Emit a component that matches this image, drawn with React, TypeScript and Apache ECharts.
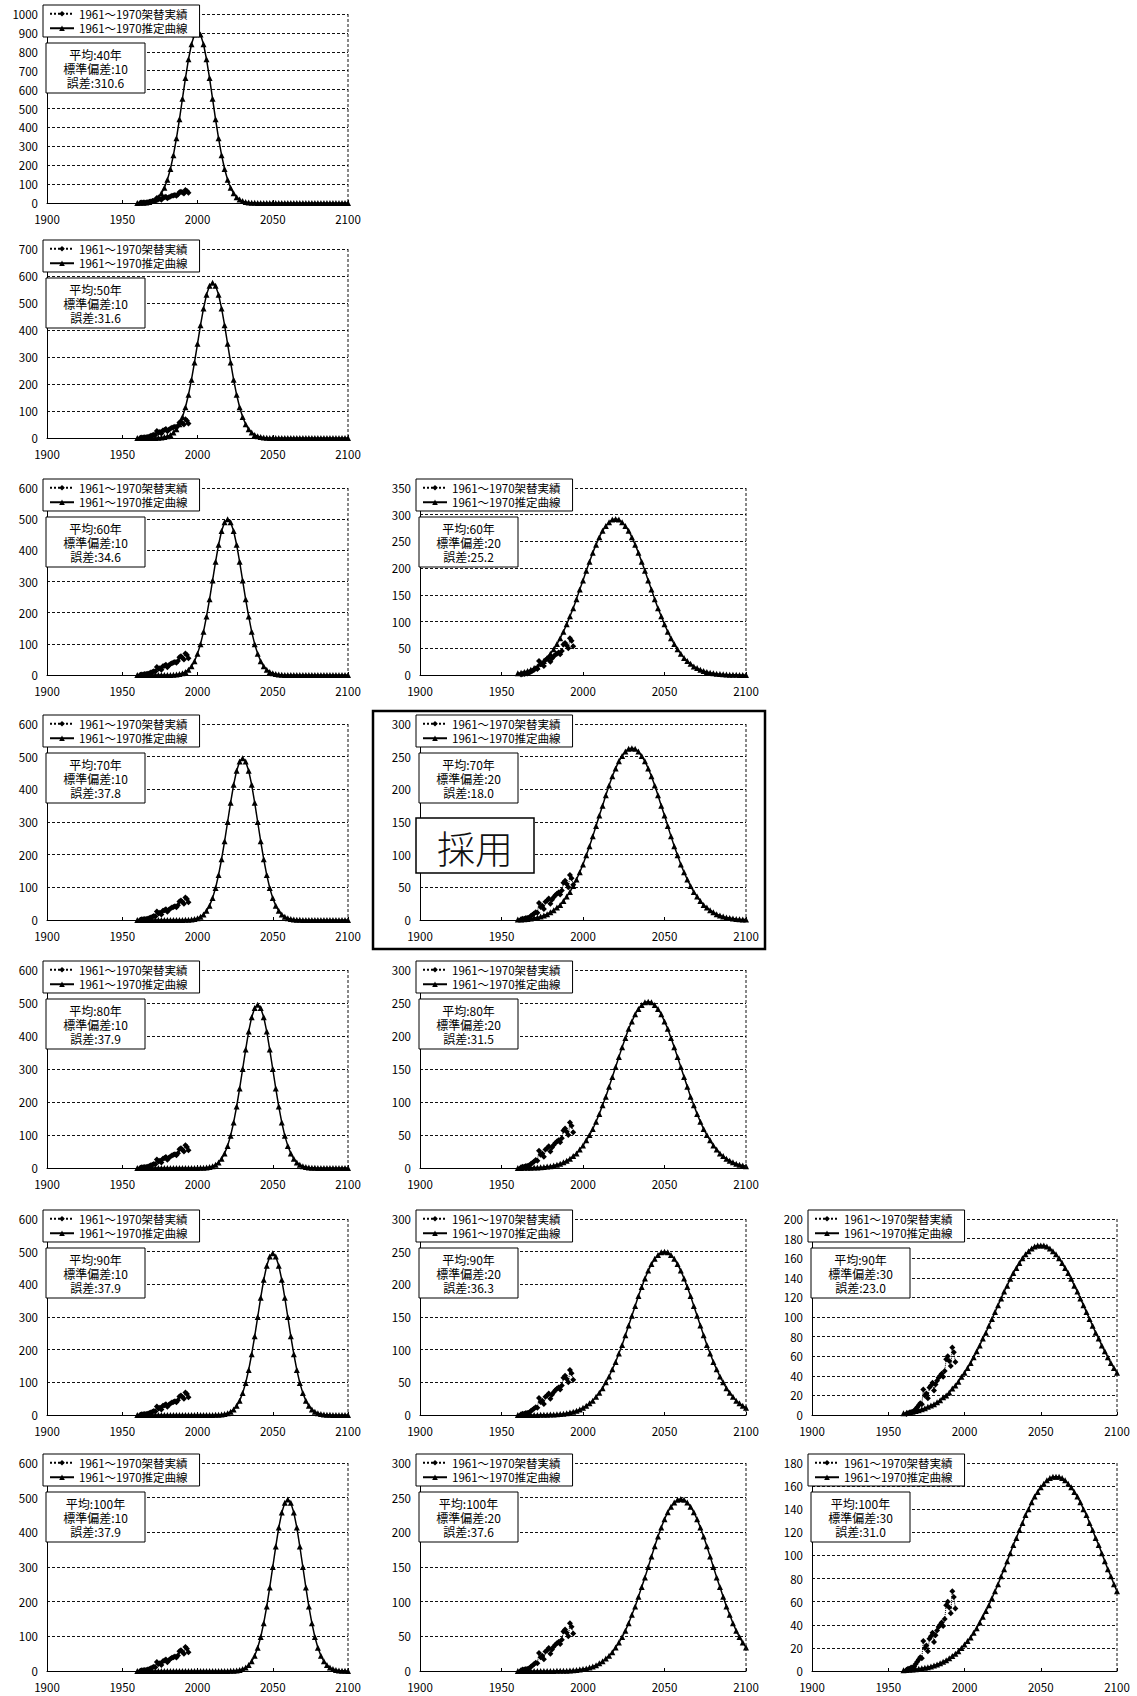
import React, { useEffect, useRef } from "react";
import * as echarts from "echarts";

// ---------------- DATA ----------------
const xTicks = [1900, 1950, 2000, 2050, 2100];

const curveYears = [
  1960, 1962, 1964, 1966, 1968, 1970, 1972, 1974, 1976, 1978,
  1980, 1982, 1984, 1986, 1988, 1990, 1992, 1994, 1996, 1998,
  2000, 2002, 2004, 2006, 2008, 2010, 2012, 2014, 2016, 2018,
  2020, 2022, 2024, 2026, 2028, 2030, 2032, 2034, 2036, 2038,
  2040, 2042, 2044, 2046, 2048, 2050, 2052, 2054, 2056, 2058,
  2060, 2062, 2064, 2066, 2068, 2070, 2072, 2074, 2076, 2078,
  2080, 2082, 2084, 2086, 2088, 2090, 2092, 2094, 2096, 2098,
  2100,
];

// 1961~1970 架替実績 (same observed data in every panel)
const actualYears = [
  1962, 1963, 1964, 1965, 1966, 1967, 1968, 1969, 1970, 1971, 1972,
  1973, 1974, 1975, 1976, 1977, 1978, 1979, 1980, 1981, 1982, 1983,
  1984, 1985, 1986, 1987, 1988, 1989, 1990, 1991, 1992, 1993, 1994,
];
const actualValues = [
  1, 2, 2, 3, 3, 4, 6, 8, 10, 12, 11,
  26, 20, 22, 17, 28, 30, 33, 25, 31, 35, 38,
  40, 42, 39, 45, 57, 60, 55, 50, 69, 64, 54,
];

// 推定曲線 values (every 2 years, 1960-2100)
const curveM40S10 = [
  0.3, 0.7, 1.4, 2.8, 5.4, 10, 18, 31, 51, 81, 123, 180, 253, 342, 443, 552, 661, 760, 840, 892, 910,
  892, 840, 760, 661, 552, 443, 342, 253, 180, 123, 81, 51, 31, 18, 10, 5.4, 2.8, 1.4, 0.7, 0.3,
  0, 0, 0, 0, 0, 0, 0, 0, 0, 0, 0, 0, 0, 0, 0, 0, 0, 0, 0, 0, 0, 0, 0, 0, 0, 0, 0, 0, 0, 0,
];
const curveM50S10 = [
  0, 0, 0, 0, 0.1,
  0.2, 0.4, 0.9, 1.8, 3.4, 6.4, 11, 20, 32, 51, 78, 114, 160, 216, 280, 349, 418, 480, 531, 564, 575,
  564, 531, 480, 418, 349, 280, 216, 160, 114, 78, 51, 32, 20, 11, 6.4, 3.4, 1.8, 0.9, 0.4, 0.2,
  0, 0, 0, 0, 0, 0, 0, 0, 0, 0, 0, 0, 0, 0, 0, 0, 0, 0, 0, 0, 0, 0, 0, 0, 0,
];
const curveM60S10 = [
  0, 0, 0, 0, 0, 0, 0, 0, 0, 0.1,
  0.2, 0.4, 0.8, 1.5, 3.0, 5.6, 9.9, 17, 28, 44, 68, 99, 139, 188, 243, 303, 363, 418, 462, 490, 500,
  490, 462, 418, 363, 303, 243, 188, 139, 99, 68, 44, 28, 17, 9.9, 5.6, 3.0, 1.5, 0.8, 0.4, 0.2,
  0, 0, 0, 0, 0, 0, 0, 0, 0, 0, 0, 0, 0, 0, 0, 0, 0, 0, 0, 0,
];
const curveM70S10 = [
  0, 0, 0, 0, 0, 0, 0, 0, 0, 0, 0, 0, 0, 0, 0.1,
  0.2, 0.4, 0.8, 1.5, 3.0, 5.5, 9.8, 17, 28, 44, 67, 98, 138, 186, 241, 300, 359, 414, 457, 485, 495,
  485, 457, 414, 359, 300, 241, 186, 138, 98, 67, 44, 28, 17, 9.8, 5.5, 3.0, 1.5, 0.8, 0.4, 0.2,
  0, 0, 0, 0, 0, 0, 0, 0, 0, 0, 0, 0, 0, 0, 0,
];
const curveM80S10 = [
  0, 0, 0, 0, 0, 0, 0, 0, 0, 0, 0, 0, 0, 0, 0, 0, 0, 0, 0, 0.1,
  0.2, 0.4, 0.8, 1.5, 3.0, 5.5, 9.8, 17, 28, 44, 67, 98, 138, 186, 241, 300, 359, 414, 457, 485, 495,
  485, 457, 414, 359, 300, 241, 186, 138, 98, 67, 44, 28, 17, 9.8, 5.5, 3.0, 1.5, 0.8, 0.4, 0.2,
  0, 0, 0, 0, 0, 0, 0, 0, 0, 0,
];
const curveM90S10 = [
  0, 0, 0, 0, 0, 0, 0, 0, 0, 0, 0, 0, 0, 0, 0, 0, 0, 0, 0, 0, 0, 0, 0, 0, 0.1,
  0.2, 0.4, 0.8, 1.5, 3.0, 5.5, 9.8, 17, 28, 44, 67, 98, 138, 186, 241, 300, 359, 414, 457, 485, 495,
  485, 457, 414, 359, 300, 241, 186, 138, 98, 67, 44, 28, 17, 9.8, 5.5, 3.0, 1.5, 0.8, 0.4, 0.2,
  0, 0, 0, 0, 0,
];
const curveM100S10 = [
  0, 0, 0, 0, 0, 0, 0, 0, 0, 0, 0, 0, 0, 0, 0, 0, 0, 0, 0, 0, 0, 0, 0, 0, 0, 0, 0, 0, 0, 0.1,
  0.2, 0.4, 0.8, 1.5, 3.0, 5.5, 9.8, 17, 28, 44, 67, 98, 138, 186, 241, 300, 359, 414, 457, 485, 495,
  485, 457, 414, 359, 300, 241, 186, 138, 98, 67, 44, 28, 17, 9.8, 5.5, 3.0, 1.5, 0.8, 0.4, 0.2,
];
const curveM60S20 = [
  3.2, 4.4, 5.8, 7.6, 9.9, 13, 16, 21, 26, 32, 40, 48, 58, 69, 81, 95, 110, 125, 142, 160,
  177, 195, 212, 229, 244, 258, 270, 279, 286, 291, 292,
  291, 286, 279, 270, 258, 244, 229, 212, 195, 177, 160, 142, 125, 110, 95, 81, 69, 58, 48, 40,
  32, 26, 21, 16, 13, 9.9, 7.6, 5.8, 4.4, 3.2, 2.4, 1.8, 1.3, 0.9, 0.6, 0.4, 0.3, 0.2, 0.1, 0.1,
];
const curveM70S20 = [
  0.6, 0.8, 1.1, 1.6, 2.2, 2.9, 3.9, 5.2, 6.9, 8.9, 12, 15, 19, 23, 29, 36, 43, 52, 62, 73,
  85, 99, 113, 128, 144, 160, 175, 191, 206, 220, 232, 243, 251, 258, 262, 263,
  262, 258, 251, 243, 232, 220, 206, 191, 175, 160, 144, 128, 113, 99, 85, 73, 62, 52, 43, 36,
  29, 23, 19, 15, 12, 8.9, 6.9, 5.2, 3.9, 2.9, 2.2, 1.6, 1.1, 0.8, 0.6,
];
const curveM80S20 = [
  0.1, 0.1, 0.2, 0.3, 0.4, 0.6, 0.8, 1.1, 1.5, 2.1, 2.8, 3.8, 5.0, 6.6, 8.6, 11, 14, 18, 22, 28,
  34, 42, 50, 59, 70, 82, 95, 108, 123, 138, 153, 168, 183, 197, 211, 222, 233, 241, 247, 251, 252,
  251, 247, 241, 233, 222, 211, 197, 183, 168, 153, 138, 123, 108, 95, 82, 70, 59, 50, 42, 34,
  28, 22, 18, 14, 11, 8.6, 6.6, 5.0, 3.8, 2.8,
];
const curveM90S20 = [
  0, 0, 0, 0, 0.1, 0.1, 0.1, 0.2, 0.3, 0.4, 0.6, 0.8, 1.1, 1.5, 2.1, 2.8, 3.7, 5.0, 6.5, 8.5,
  11, 14, 18, 22, 28, 34, 41, 50, 59, 70, 81, 94, 107, 122, 137, 152, 167, 182, 196, 209,
  221, 231, 239, 245, 249, 250,
  249, 245, 239, 231, 221, 209, 196, 182, 167, 152, 137, 122, 107, 94, 81, 70, 59, 50, 41, 34,
  28, 22, 18, 14, 11,
];
const curveM100S20 = [
  0, 0, 0, 0, 0, 0, 0, 0, 0, 0.1, 0.1, 0.1, 0.2, 0.3, 0.4, 0.5, 0.8, 1.1, 1.5, 2.0,
  2.8, 3.7, 4.9, 6.5, 8.4, 11, 14, 18, 22, 27, 34, 41, 49, 58, 69, 81, 93, 107, 121, 135,
  150, 165, 180, 194, 207, 219, 229, 237, 243, 247, 248,
  247, 243, 237, 229, 219, 207, 194, 180, 165, 150, 135, 121, 107, 93, 81, 69, 58, 49, 41, 34,
];
const curveM90S30 = [
  1.9, 2.3, 2.8, 3.4, 4.1, 4.9, 5.9, 7.0, 8.3, 9.7, 11, 13, 15, 18, 20, 23, 27, 30, 34, 39,
  43, 48, 53, 59, 65, 71, 78, 84, 91, 98, 105, 112, 119, 126, 132, 139, 145, 150, 155, 160,
  164, 167, 170, 172, 173, 173,
  173, 172, 170, 167, 164, 160, 155, 150, 145, 139, 132, 126, 119, 112, 105, 98, 91, 84, 78, 71,
  65, 59, 53, 48, 43,
];
const curveM100S30 = [
  0.7, 0.8, 1.0, 1.2, 1.5, 1.9, 2.3, 2.8, 3.3, 4.0, 4.8, 5.7, 6.8, 8.0, 9.4, 11, 13, 15, 17, 20,
  23, 26, 29, 33, 37, 42, 47, 52, 57, 63, 69, 75, 82, 88, 95, 102, 109, 115, 122, 128,
  135, 140, 146, 151, 155, 159, 162, 165, 167, 168, 168,
  168, 167, 165, 162, 159, 155, 151, 146, 140, 135, 128, 122, 115, 109, 102, 95, 88, 82, 75, 69,
];

const seriesNames = ["1961～1970架替実績", "1961～1970推定曲線"];

// panel order: row by row
const panelCurves = [
  curveM40S10,
  curveM50S10,
  curveM60S10, curveM60S20,
  curveM70S10, curveM70S20,
  curveM80S10, curveM80S20,
  curveM90S10, curveM90S20, curveM90S30,
  curveM100S10, curveM100S20, curveM100S30,
];
const panelMeans = ["40", "50", "60", "60", "70", "70", "80", "80", "90", "90", "90", "100", "100", "100"];
const panelSDs = ["10", "10", "10", "20", "10", "20", "10", "20", "10", "20", "30", "10", "20", "30"];
const panelErrors = ["310.6", "31.6", "34.6", "25.2", "37.8", "18.0", "37.9", "31.5", "37.9", "36.3", "23.0", "37.9", "37.6", "31.0"];
const panelYMax = [1000, 700, 600, 350, 600, 300, 600, 300, 600, 300, 200, 600, 300, 180];
const panelYStep = [100, 100, 100, 50, 100, 50, 100, 50, 100, 50, 20, 100, 50, 20];
const adoptedPanel = 5; // 採用

// ---------------- LAYOUT ----------------
const panelCol = [0, 0, 0, 1, 0, 1, 0, 1, 0, 1, 2, 0, 1, 2];
const panelRow = [0, 1, 2, 2, 3, 3, 4, 4, 5, 5, 5, 6, 6, 6];
const colLeft = [47, 420, 812];
const colWidth = [301, 326, 305];
const rowTop = [14, 249, 488, 724, 970, 1219, 1463];
const rowBottom = [203, 438, 675, 920, 1168, 1415, 1671];

const FONT = "'Noto Sans CJK JP', 'Noto Sans', sans-serif";
const plain = (v: number) => String(v);

function buildOption() {
  const grid: any[] = [];
  const xAxis: any[] = [];
  const yAxis: any[] = [];
  const series: any[] = [];
  const legend: any[] = [];
  const graphic: any[] = [];

  panelCurves.forEach((curve, i) => {
    const left = colLeft[panelCol[i]];
    const width = colWidth[panelCol[i]];
    const top = rowTop[panelRow[i]];
    const height = rowBottom[panelRow[i]] - top;

    grid.push({ left, top, width, height, containLabel: false });
    xAxis.push({
      type: "value",
      gridIndex: i,
      min: xTicks[0],
      max: xTicks[xTicks.length - 1],
      interval: 50,
      axisLine: { show: true, onZero: false, lineStyle: { color: "#000", width: 1 } },
      axisTick: { show: true, inside: true, length: 3, lineStyle: { color: "#000" } },
      axisLabel: { color: "#000", fontSize: 11.5, margin: 10, fontFamily: FONT, formatter: plain },
      splitLine: { show: false },
    });
    yAxis.push({
      type: "value",
      gridIndex: i,
      min: 0,
      max: panelYMax[i],
      interval: panelYStep[i],
      axisLine: { show: true, lineStyle: { color: "#000", width: 1 } },
      axisTick: { show: false },
      axisLabel: { color: "#000", fontSize: 11.5, margin: 9, fontFamily: FONT, formatter: plain },
      splitLine: { show: true, lineStyle: { color: "#111", width: 1, type: [3, 2] } },
    });

    series.push({
      type: "line",
      name: seriesNames[0],
      xAxisIndex: i,
      yAxisIndex: i,
      data: actualYears.map((y, k) => [y, actualValues[k]]),
      symbol: "diamond",
      symbolSize: 6,
      showAllSymbol: true,
      lineStyle: { color: "#000", width: 1, type: "dotted" },
      itemStyle: { color: "#000" },
      z: 2,
    });
    series.push({
      type: "line",
      name: seriesNames[1],
      xAxisIndex: i,
      yAxisIndex: i,
      data: curveYears.map((y, k) => [y, curve[k]]),
      symbol: "triangle",
      symbolSize: 6,
      showAllSymbol: true,
      lineStyle: { color: "#000", width: 1.5 },
      itemStyle: { color: "#000" },
      z: 3,
    });

    legend.push({
      orient: "vertical",
      left: left - 4,
      top: top - 9,
      itemWidth: 24,
      itemHeight: 7,
      itemGap: 3,
      padding: [3, 12, 3, 6],
      borderColor: "#000",
      borderWidth: 1,
      backgroundColor: "#fff",
      selectedMode: false,
      textStyle: { color: "#000", fontSize: 11.5, fontFamily: FONT },
      data: seriesNames,
      z: 10,
    });

    // right dotted border of plot area
    graphic.push({
      type: "line",
      z: 5,
      shape: { x1: left + width, y1: top, x2: left + width, y2: top + height },
      style: { stroke: "#111", lineWidth: 1, lineDash: [3, 2] },
    });

    // info box
    const bx = left - 1;
    const by = top + 29;
    graphic.push({
      type: "rect",
      z: 20,
      shape: { x: bx, y: by, width: 99, height: 50 },
      style: { fill: "#fff", stroke: "#000", lineWidth: 1 },
    });
    graphic.push({
      type: "text",
      z: 21,
      x: bx + 49.5,
      y: by + 25,
      style: {
        text: `平均:${panelMeans[i]}年\n標準偏差:${panelSDs[i]}\n誤差:${panelErrors[i]}`,
        fill: "#000",
        fontSize: 12,
        fontFamily: FONT,
        lineHeight: 14,
        align: "center",
        verticalAlign: "middle",
      },
    });
  });

  // adopted panel frame and label
  {
    const i = adoptedPanel;
    const left = colLeft[panelCol[i]];
    const top = rowTop[panelRow[i]];
    graphic.push({
      type: "rect",
      z: 30,
      shape: { x: left - 47, y: top - 13, width: 392, height: 238 },
      style: { fill: "none", stroke: "#000", lineWidth: 2.5 },
    });
    graphic.push({
      type: "rect",
      z: 30,
      shape: { x: left - 4, y: top + 94, width: 118, height: 55 },
      style: { fill: "#fff", stroke: "#000", lineWidth: 1.5 },
    });
    graphic.push({
      type: "text",
      z: 31,
      x: left + 55,
      y: top + 122,
      style: {
        text: "採用",
        fill: "#111",
        fontSize: 38,
        fontFamily: FONT,
        fontWeight: 300,
        align: "center",
        verticalAlign: "middle",
      },
    });
  }

  return {
    animation: false,
    backgroundColor: "#fff",
    grid,
    xAxis,
    yAxis,
    series,
    legend,
    graphic,
  };
}

export default function App() {
  const ref = useRef<HTMLDivElement>(null);
  useEffect(() => {
    if (!ref.current) return;
    const chart = echarts.init(ref.current, null, { renderer: "svg", width: 1137, height: 1696 });
    chart.setOption(buildOption() as any);
    return () => chart.dispose();
  }, []);
  return (
    <div
      ref={ref}
      style={{ position: "absolute", left: 0, top: 0, width: 1137, height: 1696, background: "#fff" }}
    />
  );
}
